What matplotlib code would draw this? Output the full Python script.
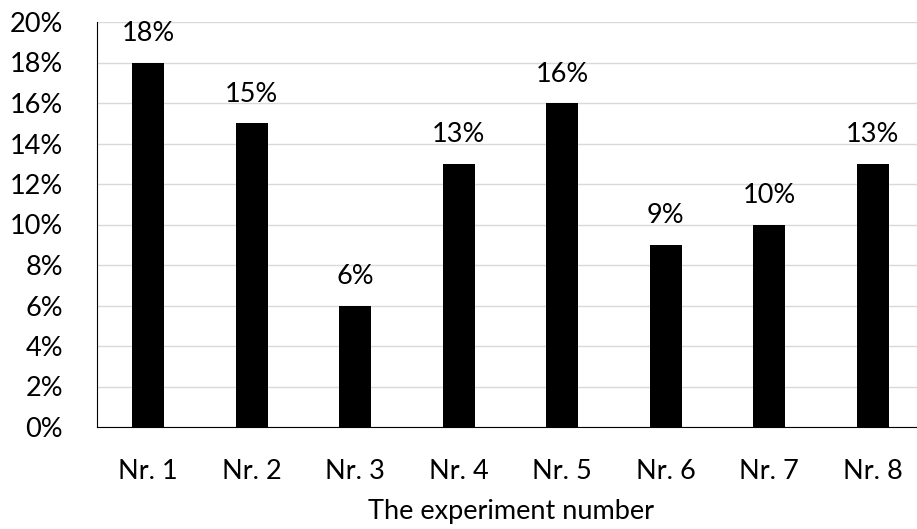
import matplotlib
matplotlib.use("Agg")
from matplotlib import pyplot as plt
from matplotlib.ticker import FuncFormatter

experiments = ["Nr. 1", "Nr. 2", "Nr. 3", "Nr. 4", "Nr. 5", "Nr. 6", "Nr. 7", "Nr. 8"]
shares = [18, 15, 6, 13, 16, 9, 10, 13]
bar_labels = ["18%", "15%", "6%", "13%", "16%", "9%", "10%", "13%"]

plt.rcParams['font.family'] = ['Lato', 'DejaVu Sans']
fs = 19.5

fig = plt.figure(figsize=(9.17, 5.29), dpi=100)
ax = fig.add_axes([96.5 / 917, 1 - 427 / 529, 828 / 917, 405 / 529])

x = range(len(experiments))
ax.bar(x, shares, width=0.31, color='black', zorder=3)
for xi, v, lab in zip(x, shares, bar_labels):
    ax.text(xi, v + 1.05, lab, ha='center', va='baseline', fontsize=fs)

ax.set_xlim(-0.5, len(experiments) - 0.5)
ax.set_ylim(0, 20)
ax.set_yticks(range(0, 21, 2))
ax.yaxis.set_major_formatter(FuncFormatter(lambda v, p: f"{v:.0f}%"))
ax.set_xticks(list(x))
ax.set_xticklabels(experiments)
ax.grid(axis='y', color='#d9d9d9', linewidth=1, zorder=0)
ax.tick_params(axis='both', length=0, labelsize=fs)
ax.tick_params(axis='x', pad=23)
ax.tick_params(axis='y', pad=24)

for side in ['top', 'right']:
    ax.spines[side].set_visible(False)
ax.spines['left'].set_color('black')
ax.spines['bottom'].set_color('black')

ax.set_xlabel("The experiment number", fontsize=fs, labelpad=11)

fig.savefig("out.png", dpi=100)
